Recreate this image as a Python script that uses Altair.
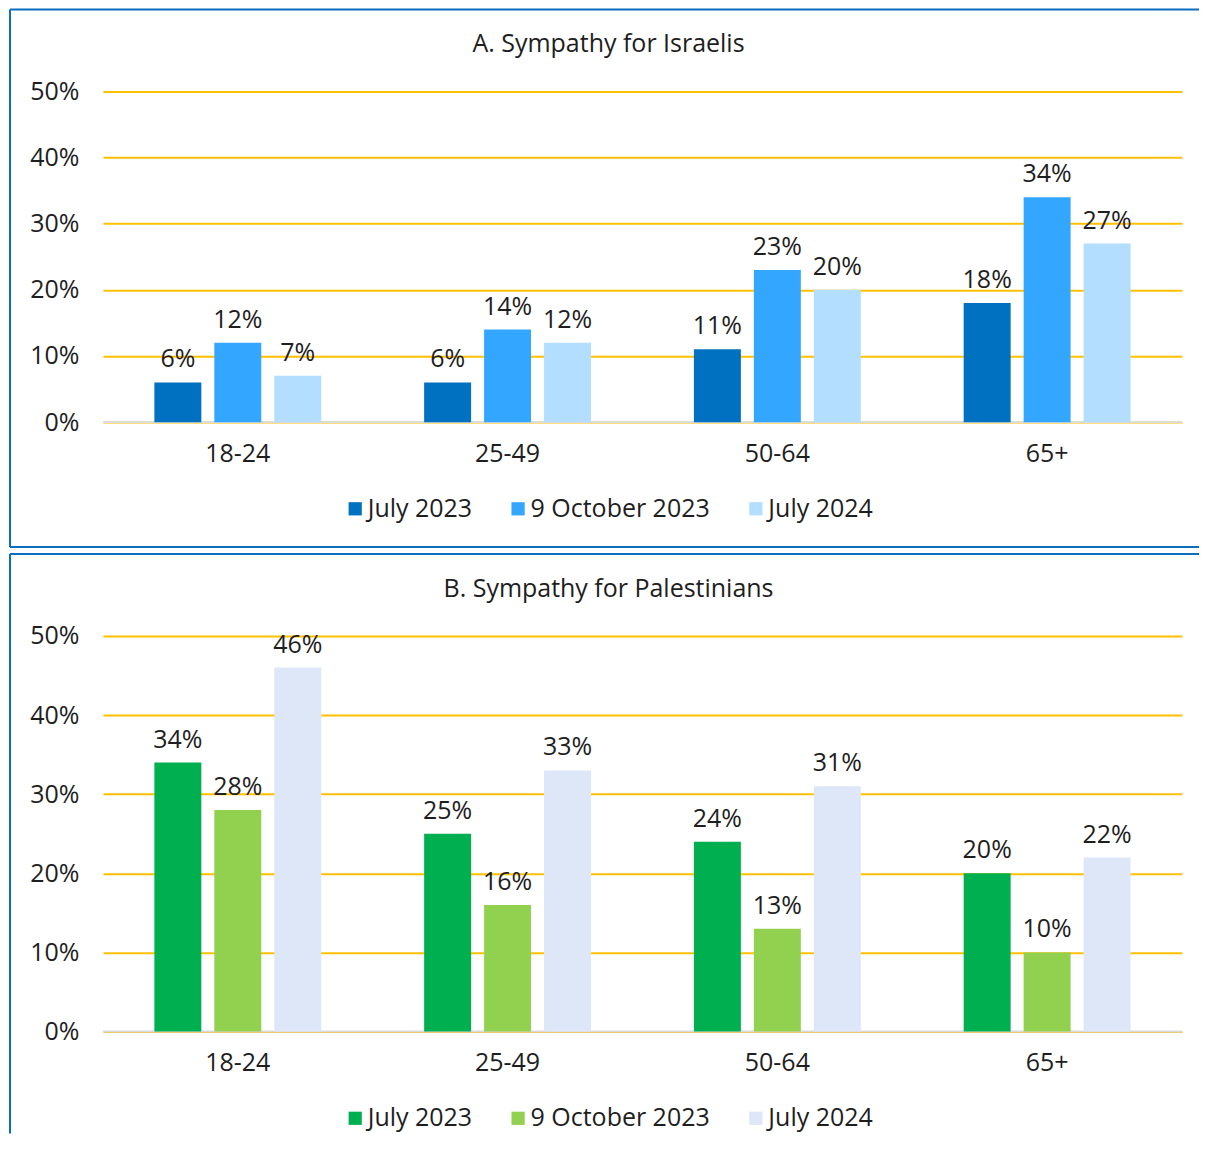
import altair as alt
import pandas as pd

groups = ["18-24", "25-49", "50-64", "65+"]
series = ["July 2023", "9 October 2023", "July 2024"]

israel_jul23 = [6, 6, 11, 18]
israel_oct23 = [12, 14, 23, 34]
israel_jul24 = [7, 12, 20, 27]

pal_jul23 = [34, 25, 24, 20]
pal_oct23 = [28, 16, 13, 10]
pal_jul24 = [46, 33, 31, 22]

colors_a = ["#0070C0", "#33A6FF", "#B3DEFF"]
colors_b = ["#00B050", "#92D050", "#DDE7F7"]

yticks = [0, 0.1, 0.2, 0.3, 0.4, 0.5]

FONT = "Open Sans"
TXT = "#1e1e1e"
BORDER = "#0A6FC0"
FS = 25


def frame(vals):
    rows = []
    for s, arr in zip(series, vals):
        for g, v in zip(groups, arr):
            rows.append({"group": g, "series": s, "value": v / 100})
    return pd.DataFrame(rows)


def panel(df, colors, title, height, legend_y, bottom_border):
    base = alt.Chart(df)
    x = alt.X("group:N", sort=groups, title=None,
              scale=alt.Scale(paddingInner=0, paddingOuter=0),
              axis=alt.Axis(labelAngle=0, labelFontSize=FS, labelFont=FONT,
                            labelColor=TXT, ticks=False, domain=False,
                            labelPadding=19, grid=False))
    xo = alt.XOffset("series:N", sort=series,
                     scale=alt.Scale(paddingInner=0.2167, paddingOuter=0.858))
    y = alt.Y("value:Q", title=None,
              scale=alt.Scale(domain=[0, 0.5], nice=False),
              axis=alt.Axis(values=yticks, format=".0%", labelFontSize=FS,
                            labelFont=FONT, labelColor=TXT, ticks=False,
                            domain=False, labelPadding=24, gridColor="#FFC000",
                            gridWidth=2))
    bars = base.mark_bar().encode(
        x=x, xOffset=xo, y=y,
        color=alt.Color("series:N", sort=series,
                        scale=alt.Scale(domain=series, range=colors),
                        legend=alt.Legend(title=None, orient="none",
                                          direction="horizontal",
                                          legendX=240, legendY=legend_y,
                                          symbolType="square", symbolSize=175,
                                          symbolStrokeWidth=0,
                                          labelFontSize=FS, labelFont=FONT,
                                          labelColor=TXT, labelOffset=0,
                                          labelLimit=0,
                                          columnPadding=33)),
    )
    labels = base.mark_text(baseline="alphabetic", dy=-15, fontSize=FS,
                            font=FONT, color=TXT).encode(
        x=x, xOffset=xo, y=y,
        text=alt.Text("value:Q", format=".0%"),
    )
    zero = alt.Chart(pd.DataFrame({"v": [0]})).mark_rule(
        color="#D9D9D9", strokeWidth=2).encode(y=alt.Y("v:Q"))
    ttl = alt.Chart(pd.DataFrame({"t": [title]})).mark_text(
        fontSize=FS, font=FONT, color=TXT, align="center", baseline="middle"
    ).encode(text="t:N", x=alt.value(506), y=alt.value(-47))
    one = pd.DataFrame({"k": [0]})
    top = alt.Chart(one).mark_rule(color=BORDER, strokeWidth=2).encode(
        x=alt.value(-93), x2=alt.value(1097), y=alt.value(-82))
    left_end = 456 if bottom_border else 498
    left = alt.Chart(one).mark_rule(color=BORDER, strokeWidth=2).encode(
        x=alt.value(-93), y=alt.value(-82), y2=alt.value(left_end))
    layers = [zero, bars, labels, ttl, top, left]
    if bottom_border:
        bot = alt.Chart(one).mark_rule(color=BORDER, strokeWidth=2).encode(
            x=alt.value(-93), x2=alt.value(1097), y=alt.value(456))
        layers.append(bot)
    return alt.layer(*layers).properties(width=1080, height=height)


dfa = frame([israel_jul23, israel_oct23, israel_jul24])
dfb = frame([pal_jul23, pal_oct23, pal_jul24])

pa = panel(dfa, colors_a, "A. Sympathy for Israelis", 331, 405, True)
pb = panel(dfb, colors_b, "B. Sympathy for Palestinians", 396, 470, False)

chart = alt.vconcat(pa, pb, spacing=5).resolve_scale(
    color="independent", y="independent", x="independent",
    xOffset="independent"
).properties(
    padding={"left": 1, "top": 0, "right": 0, "bottom": 0}
).configure(background="white").configure_view(stroke=None)

chart.save("out.html", embed_options={"renderer": "svg", "actions": False})
